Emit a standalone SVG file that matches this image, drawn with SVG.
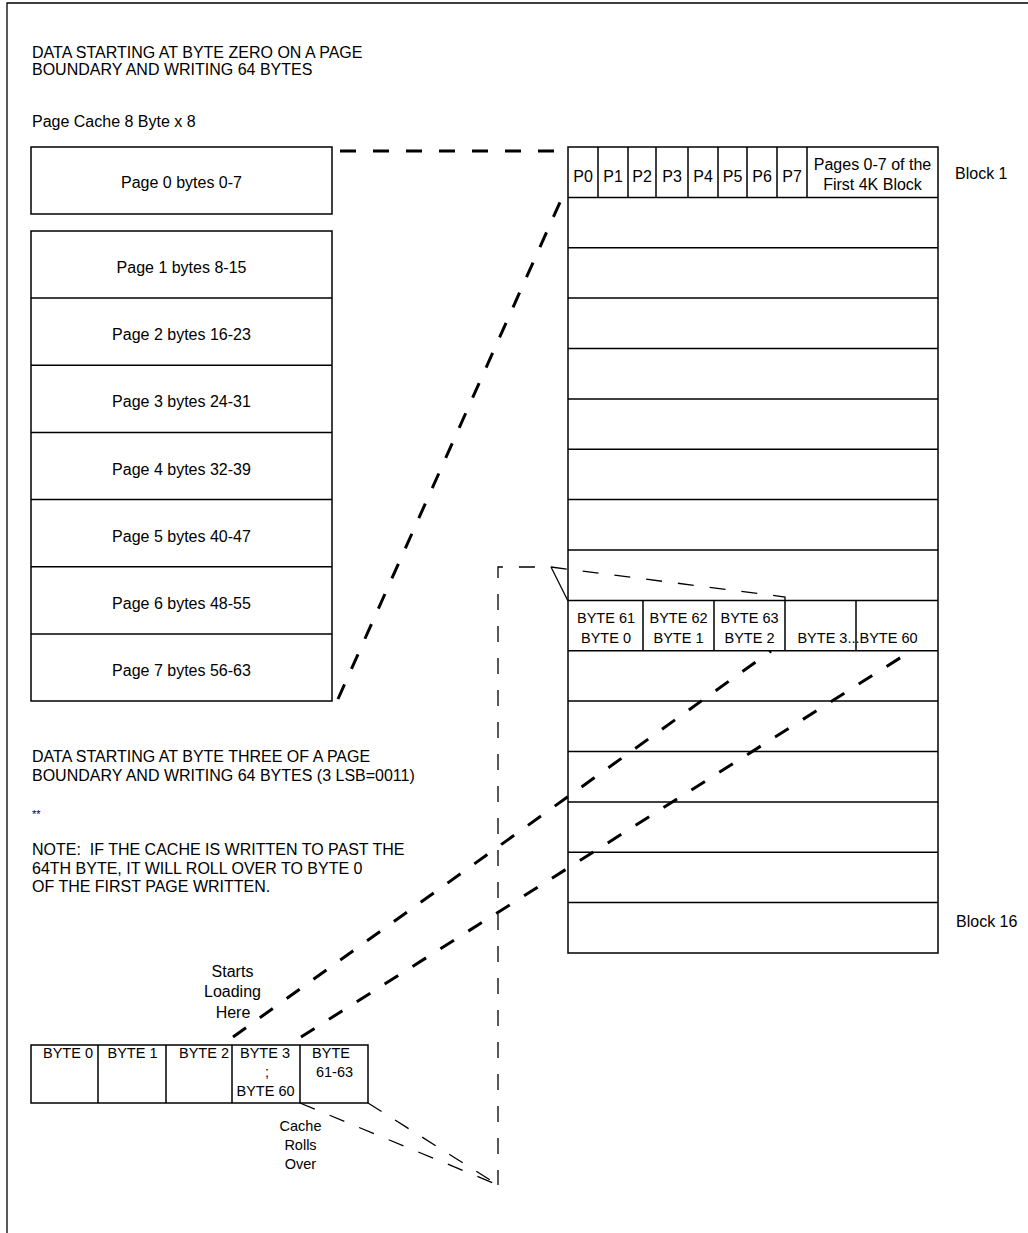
<svg xmlns="http://www.w3.org/2000/svg" width="1028" height="1233" viewBox="0 0 1028 1233">
<defs>
<style>
text{font-family:"Liberation Sans",Arial,sans-serif;fill:#000}
.t16{font-size:16px}
.t14{font-size:14.5px}
.m{text-anchor:middle}
.box{fill:#fff;stroke:#000;stroke-width:1.5}
.ln{fill:none;stroke:#000;stroke-width:1.5}
.thick{fill:none;stroke:#000;stroke-width:3;stroke-dasharray:16 17}
.thin{fill:none;stroke:#000;stroke-width:1.3;stroke-dasharray:16 16}
.frame{fill:none;stroke:#000;stroke-width:1.3}
</style>
</defs>
<rect width="1028" height="1233" fill="#fff"/>
<path class="frame" d="M7,1233 V3 H1028"/>

<g id="title-top">
<text class="t16" x="32" y="57.5">DATA STARTING AT BYTE ZERO ON A PAGE</text>
<text class="t16" x="32" y="75">BOUNDARY AND WRITING 64 BYTES</text>
<text class="t16" x="32" y="126.5">Page Cache 8 Byte x 8</text>
</g>

<g id="page0">
<rect class="box" x="31" y="147" width="301" height="67"/>
<text class="t16 m" x="181.5" y="188">Page 0 bytes 0-7</text>
</g>

<g id="page-cache">
<rect class="box" x="31" y="231" width="301" height="470"/>
<path class="ln" d="M31,298.1H332M31,365.3H332M31,432.4H332M31,499.6H332M31,566.7H332M31,633.9H332"/>
<text class="t16 m" x="181.5" y="273.2">Page 1 bytes 8-15</text>
<text class="t16 m" x="181.5" y="340.3">Page 2 bytes 16-23</text>
<text class="t16 m" x="181.5" y="407.4">Page 3 bytes 24-31</text>
<text class="t16 m" x="181.5" y="474.5">Page 4 bytes 32-39</text>
<text class="t16 m" x="181.5" y="541.6">Page 5 bytes 40-47</text>
<text class="t16 m" x="181.5" y="608.8">Page 6 bytes 48-55</text>
<text class="t16 m" x="181.5" y="675.9">Page 7 bytes 56-63</text>
</g>

<g id="flash-blocks">
<rect class="box" x="568" y="147" width="370" height="806"/>
<path class="ln" d="M568,197.4H938M568,247.8H938M568,298.1H938M568,348.5H938M568,398.9H938M568,449.3H938M568,499.6H938M568,550H938M568,600.4H938M568,650.8H938M568,701.1H938M568,751.5H938M568,801.9H938M568,852.3H938M568,902.6H938"/>
<path class="ln" d="M598,147V197.4M628,147V197.4M656,147V197.4M688,147V197.4M718,147V197.4M747,147V197.4M777,147V197.4M807,147V197.4"/>
<text class="t16 m" x="583" y="182">P0</text>
<text class="t16 m" x="613" y="182">P1</text>
<text class="t16 m" x="642" y="182">P2</text>
<text class="t16 m" x="672" y="182">P3</text>
<text class="t16 m" x="703" y="182">P4</text>
<text class="t16 m" x="732.5" y="182">P5</text>
<text class="t16 m" x="762" y="182">P6</text>
<text class="t16 m" x="792" y="182">P7</text>
<text class="t16 m" x="872.5" y="170">Pages 0-7 of the</text>
<text class="t16 m" x="872.5" y="189.5">First 4K Block</text>
<path class="ln" d="M643,600.4V650.8M714,600.4V650.8M785,600.4V650.8M856,600.4V650.8"/>
<text class="t14 m" x="606" y="622.5">BYTE 61</text>
<text class="t14 m" x="606" y="642.5">BYTE 0</text>
<text class="t14 m" x="678.5" y="622.5">BYTE 62</text>
<text class="t14 m" x="678.5" y="642.5">BYTE 1</text>
<text class="t14 m" x="749.5" y="622.5">BYTE 63</text>
<text class="t14 m" x="749.5" y="642.5">BYTE 2</text>
<text class="t14 m" x="857.5" y="642.5">BYTE 3...BYTE 60</text>
</g>

<g id="block-labels">
<text class="t16" x="955" y="179">Block 1</text>
<text class="t16" x="956" y="927">Block 16</text>
</g>

<g id="title-bottom">
<text class="t16" x="32" y="762">DATA STARTING AT BYTE THREE OF A PAGE</text>
<text class="t16" x="32" y="781">BOUNDARY AND WRITING 64 BYTES (3 LSB=0011)</text>
<text x="32" y="818" style="font-size:11px">**</text>
<text class="t16" x="32" y="855" xml:space="preserve">NOTE:  IF THE CACHE IS WRITTEN TO PAST THE</text>
<text class="t16" x="32" y="873.5">64TH BYTE, IT WILL ROLL OVER TO BYTE 0</text>
<text class="t16" x="32" y="892">OF THE FIRST PAGE WRITTEN.</text>
</g>

<g id="byte-cache">
<rect class="box" x="31" y="1045" width="337" height="58"/>
<path class="ln" d="M98,1045V1103M166,1045V1103M232,1045V1103M300,1045V1103"/>
<text class="t14 m" x="68" y="1058">BYTE 0</text>
<text class="t14 m" x="132.5" y="1058">BYTE 1</text>
<text class="t14 m" x="204" y="1058">BYTE 2</text>
<text class="t14 m" x="265" y="1058">BYTE 3</text>
<text class="t14 m" x="267" y="1077">;</text>
<text class="t14 m" x="265.5" y="1096">BYTE 60</text>
<text class="t14 m" x="331" y="1058">BYTE</text>
<text class="t14 m" x="334.5" y="1077">61-63</text>
</g>

<g id="label-starts">
<text class="t16 m" x="232.5" y="976.5">Starts</text>
<text class="t16 m" x="232.5" y="997">Loading</text>
<text class="t16 m" x="233" y="1018">Here</text>
</g>

<g id="label-rolls">
<text class="t14 m" x="300.5" y="1131">Cache</text>
<text class="t14 m" x="300.5" y="1150">Rolls</text>
<text class="t14 m" x="300.5" y="1169">Over</text>
</g>

<g id="connectors">
<path class="thick" d="M340,151H557"/>
<path class="thick" d="M338,699L561,200"/>
<path class="thick" d="M233,1037L771,651"/>
<path class="thick" d="M301,1037L911,651"/>
<path class="thin" d="M785,601V597L551,567H498V1185"/>
<path class="ln" style="stroke-width:1.3" d="M551,567L568,601"/>
<path class="thin" d="M300,1103L498,1185"/>
<path class="thin" d="M368,1103L498,1185"/>
</g>
</svg>
